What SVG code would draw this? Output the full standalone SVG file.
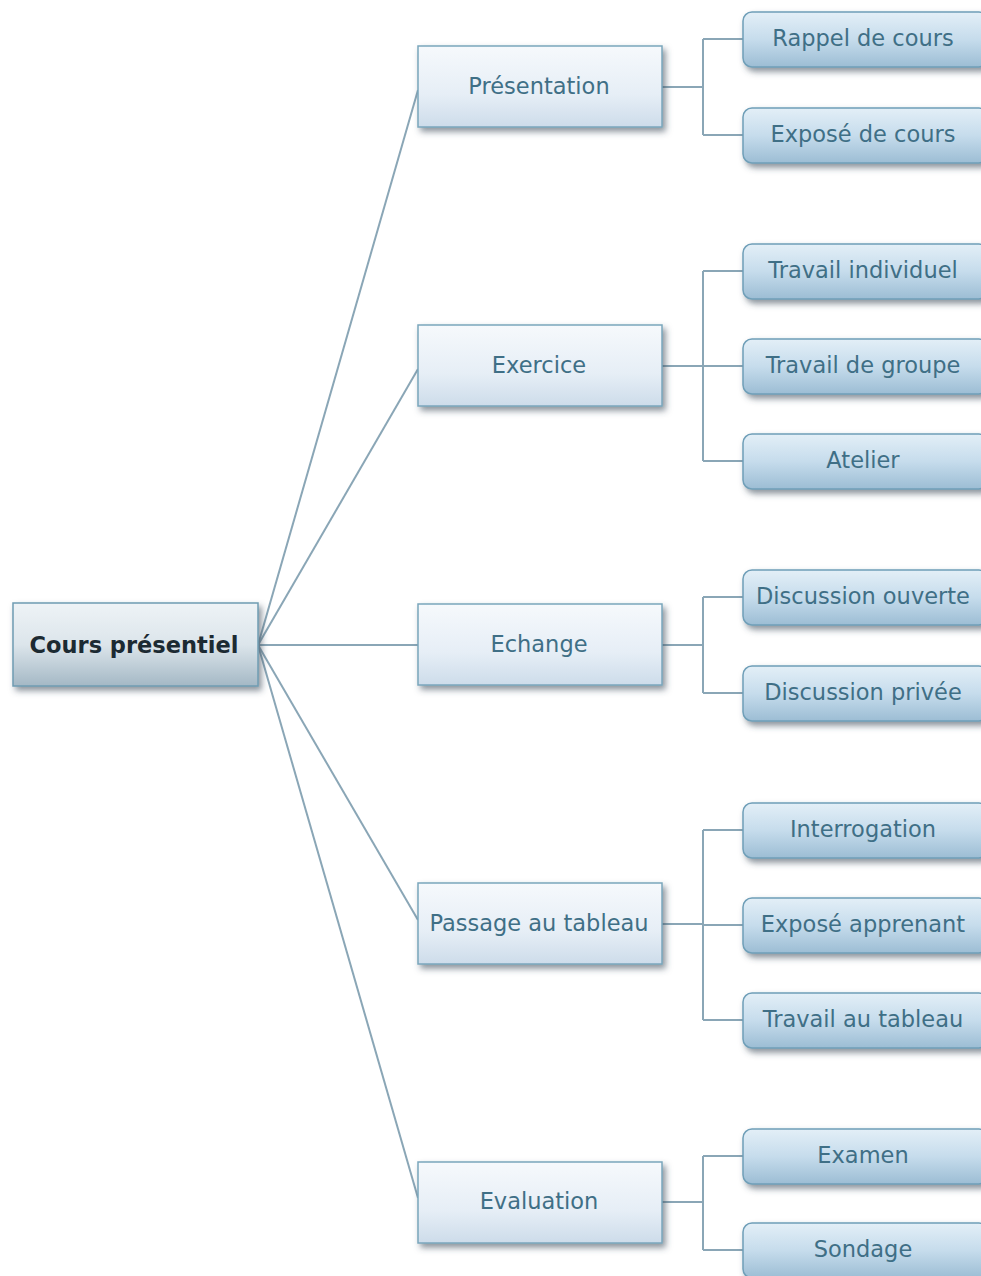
<svg xmlns="http://www.w3.org/2000/svg" width="981" height="1276" viewBox="0 0 981 1276">
<defs>
<linearGradient id="gRoot" x1="0" y1="0" x2="0" y2="1">
<stop offset="0" stop-color="#eef3f6"/><stop offset="0.5" stop-color="#dce5eb"/><stop offset="1" stop-color="#a4b8c5"/>
</linearGradient>
<linearGradient id="gMid" x1="0" y1="0" x2="0" y2="1">
<stop offset="0" stop-color="#f6f9fc"/><stop offset="0.6" stop-color="#e6eef6"/><stop offset="1" stop-color="#cddcea"/>
</linearGradient>
<linearGradient id="gLeaf" x1="0" y1="0" x2="0" y2="1">
<stop offset="0" stop-color="#e3eff7"/><stop offset="0.5" stop-color="#c6dcec"/><stop offset="1" stop-color="#9cbdd4"/>
</linearGradient>
<filter id="sh" x="-10%" y="-10%" width="130%" height="140%">
<feDropShadow dx="3" dy="4" stdDeviation="3" flood-color="#3e4e5a" flood-opacity="0.6"/>
</filter>
</defs>
<style>
.root{fill:url(#gRoot);stroke:#6f9cb2;stroke-width:1.5;filter:url(#sh)}
.mid{fill:url(#gMid);stroke:#7aa6bc;stroke-width:1.5;filter:url(#sh)}
.leaf{fill:url(#gLeaf);stroke:#6f9fb8;stroke-width:1.5;filter:url(#sh)}
.t{font-family:"DejaVu Sans",Verdana,sans-serif;font-size:22.5px;fill:#3f6f86;text-anchor:middle;dominant-baseline:central}
.tr{font-family:"DejaVu Sans",Verdana,sans-serif;font-size:22.5px;font-weight:bold;fill:#1c2a32;text-anchor:middle;dominant-baseline:central}
.c{fill:none;stroke:#8aa6b6;stroke-width:2}
</style>
<rect width="981" height="1276" fill="#ffffff"/>
<g id="connectors">
<path class="c" d="M258,645 L418,90"/>
<path class="c" d="M258,645 L418,369"/>
<path class="c" d="M258,645 L418,645"/>
<path class="c" d="M258,645 L418,920"/>
<path class="c" d="M258,645 L418,1198"/>
<path class="c" d="M662,87 H703 M703,39 V135 M703,39 H743 M703,135 H743"/>
<path class="c" d="M662,366 H703 M703,271 V461 M703,271 H743 M703,366 H743 M703,461 H743"/>
<path class="c" d="M662,645 H703 M703,597 V693 M703,597 H743 M703,693 H743"/>
<path class="c" d="M662,924 H703 M703,830 V1020 M703,830 H743 M703,925 H743 M703,1020 H743"/>
<path class="c" d="M662,1202 H703 M703,1156 V1250 M703,1156 H743 M703,1250 H743"/>
</g>
<g id="root"><rect class="root" x="13" y="603" width="245" height="83"/><text class="tr" x="134" y="645">Cours présentiel</text></g>
<g id="presentation"><rect class="mid" x="418" y="46" width="244" height="81"/><text class="t" x="539" y="86">Présentation</text></g>
<g id="exercice"><rect class="mid" x="418" y="325" width="244" height="81"/><text class="t" x="539" y="365">Exercice</text></g>
<g id="echange"><rect class="mid" x="418" y="604" width="244" height="81"/><text class="t" x="539" y="644">Echange</text></g>
<g id="passage"><rect class="mid" x="418" y="883" width="244" height="81"/><text class="t" x="539" y="923">Passage au tableau</text></g>
<g id="evaluation"><rect class="mid" x="418" y="1162" width="244" height="81"/><text class="t" x="539" y="1201">Evaluation</text></g>
<g id="rappel"><rect class="leaf" x="743" y="12" width="245" height="55" rx="9"/><text class="t" x="863" y="38">Rappel de cours</text></g>
<g id="expose-cours"><rect class="leaf" x="743" y="108" width="245" height="55" rx="9"/><text class="t" x="863" y="134">Exposé de cours</text></g>
<g id="travail-individuel"><rect class="leaf" x="743" y="244" width="245" height="55" rx="9"/><text class="t" x="863" y="270">Travail individuel</text></g>
<g id="travail-groupe"><rect class="leaf" x="743" y="339" width="245" height="55" rx="9"/><text class="t" x="863" y="365">Travail de groupe</text></g>
<g id="atelier"><rect class="leaf" x="743" y="434" width="245" height="55" rx="9"/><text class="t" x="863" y="460">Atelier</text></g>
<g id="discussion-ouverte"><rect class="leaf" x="743" y="570" width="245" height="55" rx="9"/><text class="t" x="863" y="596">Discussion ouverte</text></g>
<g id="discussion-privee"><rect class="leaf" x="743" y="666" width="245" height="55" rx="9"/><text class="t" x="863" y="692">Discussion privée</text></g>
<g id="interrogation"><rect class="leaf" x="743" y="803" width="245" height="55" rx="9"/><text class="t" x="863" y="829">Interrogation</text></g>
<g id="expose-apprenant"><rect class="leaf" x="743" y="898" width="245" height="55" rx="9"/><text class="t" x="863" y="924">Exposé apprenant</text></g>
<g id="travail-tableau"><rect class="leaf" x="743" y="993" width="245" height="55" rx="9"/><text class="t" x="863" y="1019">Travail au tableau</text></g>
<g id="examen"><rect class="leaf" x="743" y="1129" width="245" height="55" rx="9"/><text class="t" x="863" y="1155">Examen</text></g>
<g id="sondage"><rect class="leaf" x="743" y="1223" width="245" height="55" rx="9"/><text class="t" x="863" y="1249">Sondage</text></g>
</svg>
